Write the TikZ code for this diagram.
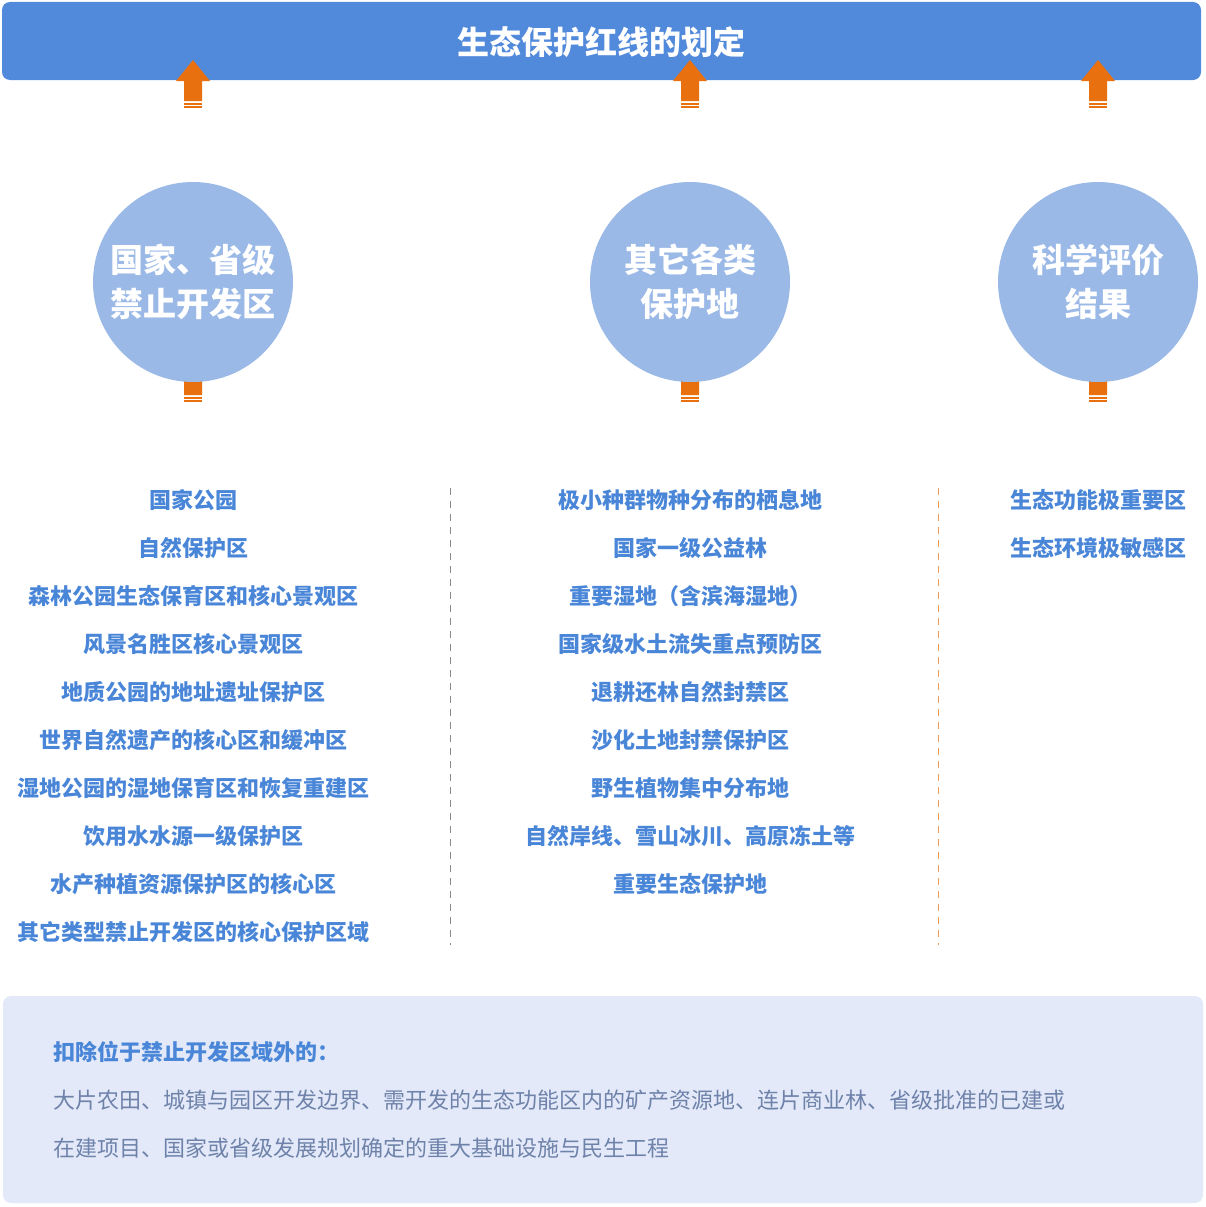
\documentclass[tikz,border=0pt]{standalone}
\usepackage{fontspec}
\setmainfont{Noto Sans CJK SC}
\usetikzlibrary{positioning}
\definecolor{hdblue}{HTML}{5189DB}
\definecolor{circblue}{HTML}{9BB9E7}
\definecolor{txtblue}{HTML}{4A86D8}
\definecolor{arrorange}{HTML}{E8700F}
\definecolor{boxfill}{HTML}{E3E9F8}
\definecolor{bodygray}{HTML}{6E82AA}
\definecolor{dashgray}{HTML}{8A8A8A}
\tikzset{
  pics/downmark/.style={code={
    \fill[arrorange] (-9,-2) rectangle (9,-4);
    \fill[arrorange] (-9,-5.5) rectangle (9,-7.5);
    \fill[arrorange] (-9,-9) -- (9,-9) -- (9,-29) -- (17,-29) -- (0,-50) -- (-17,-29) -- (-9,-29) -- cycle;
  }},
  zone/.style={circle, fill=circblue, minimum size=200pt, inner sep=0pt, align=center, text=white,
    font=\fontsize{33}{44}\selectfont\bfseries},
  item/.style={text=txtblue, font=\fontsize{22}{26}\selectfont\bfseries, inner sep=0pt}
}
\begin{document}
\begin{tikzpicture}[x=1pt,y=-1pt]
\useasboundingbox (0,0) rectangle (1206,1207);
% title bar
\fill[hdblue, rounded corners=8pt] (2,2) rectangle (1201,80);
\node[text=white, font=\fontsize{32}{36}\selectfont\bfseries] (title) at (601,42) {生态保护红线的划定};

% arrows and circles
\foreach \cx in {193,690,1098}{
  \pic at (\cx,110) {downmark};
  \pic at (\cx,404) {downmark};
}
\node[zone] (zoneA) at (193,282) {国家、省级\\禁止开发区};
\node[zone] (zoneB) at (690,282) {其它各类\\保护地};
\node[zone] (zoneC) at (1098,282) {科学评价\\结果};

% column lists
\foreach \t [count=\i from 0] in {国家公园,自然保护区,森林公园生态保育区和核心景观区,风景名胜区核心景观区,地质公园的地址遗址保护区,世界自然遗产的核心区和缓冲区,湿地公园的湿地保育区和恢复重建区,饮用水水源一级保护区,水产种植资源保护区的核心区,其它类型禁止开发区的核心保护区域}
  \node[item] (a\i) at (193,500+48*\i) {\t};
\foreach \t [count=\i from 0] in {极小种群物种分布的栖息地,国家一级公益林,重要湿地（含滨海湿地）,国家级水土流失重点预防区,退耕还林自然封禁区,沙化土地封禁保护区,野生植物集中分布地,自然岸线、雪山冰川、高原冻土等,重要生态保护地}
  \node[item] (b\i) at (690,500+48*\i) {\t};
\foreach \t [count=\i from 0] in {生态功能极重要区,生态环境极敏感区}
  \node[item] (c\i) at (1098,500+48*\i) {\t};

% separators
\draw[dashgray, dash pattern=on 7pt off 6pt] (450,488) -- (450,945);
\draw[arrorange!70, dash pattern=on 7pt off 6pt] (938,488) -- (938,945);

% bottom note
\fill[boxfill, rounded corners=8pt] (3,996) rectangle (1203,1203);
\node[item, anchor=west] (notehead) at (53,1052) {扣除位于禁止开发区域外的：};
\node[text=bodygray, font=\fontsize{22}{26}\selectfont, inner sep=0pt, anchor=west] (noteA) at (53,1100) {大片农田、城镇与园区开发边界、需开发的生态功能区内的矿产资源地、连片商业林、省级批准的已建或};
\node[text=bodygray, font=\fontsize{22}{26}\selectfont, inner sep=0pt, anchor=west] (noteB) at (53,1148) {在建项目、国家或省级发展规划确定的重大基础设施与民生工程};
\end{tikzpicture}
\end{document}
